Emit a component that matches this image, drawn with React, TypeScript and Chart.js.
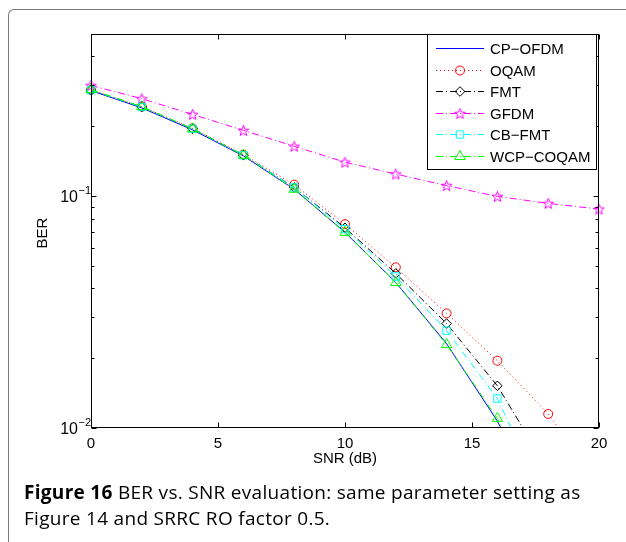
import React, { useEffect, useRef } from 'react';
import { Chart, registerables } from 'chart.js';

Chart.register(...registerables);

// ---- data ----
const snrDb = [0, 2, 4, 6, 8, 10, 12, 14, 16, 18, 20];
const cpOfdm = [0.285, 0.240, 0.193, 0.149, 0.107, 0.0698, 0.0424, 0.0231, 0.0107, 0.0040, 0.0012];
const oqam = [0.287, 0.243, 0.196, 0.151, 0.112, 0.0757, 0.0493, 0.0312, 0.0195, 0.0115, 0.0057];
const fmt = [0.286, 0.242, 0.195, 0.150, 0.109, 0.0730, 0.0464, 0.0282, 0.0152, 0.0066, 0.0030];
const gfdm = [0.300, 0.263, 0.225, 0.192, 0.164, 0.140, 0.1245, 0.111, 0.0997, 0.093, 0.0879];
const cbFmt = [0.286, 0.242, 0.195, 0.150, 0.109, 0.0720, 0.0450, 0.0263, 0.0134, 0.0045, 0.0015];
const wcpCoqam = [0.288, 0.243, 0.195, 0.150, 0.107, 0.0698, 0.0424, 0.0229, 0.0110, 0.0040, 0.0012];

const seriesNames = ['CP\u2212OFDM', 'OQAM', 'FMT', 'GFDM', 'CB\u2212FMT', 'WCP\u2212COQAM'];

const xTicks = [0, 5, 10, 15, 20];
const yMajorTicks = [0.01, 0.1];
const yMajorExponents = ['\u22122', '\u22121'];
const yMinorTicks = [0.02, 0.03, 0.04, 0.05, 0.06, 0.07, 0.08, 0.09, 0.2, 0.3, 0.4];

const xTitle = 'SNR (dB)';
const yTitle = 'BER';
const captionBold = 'Figure 16';
const captionLine1 = ' BER vs. SNR evaluation: same parameter setting as';
const captionLine2 = 'Figure 14 and SRRC RO factor 0.5.';

const FONT = '"Liberation Sans", Arial, Helvetica, sans-serif';
const DASHDOT = [7, 3, 1, 3];

function makeStar(color: string): HTMLCanvasElement {
  const size = 13;
  const c = document.createElement('canvas');
  c.width = size;
  c.height = size;
  const g = c.getContext('2d')!;
  g.strokeStyle = color;
  g.lineWidth = 1;
  const cx = size / 2, cy = size / 2 + 0.5;
  const r = 5.6, ri = r * 0.42;
  g.beginPath();
  for (let i = 0; i < 10; i++) {
    const a = -Math.PI / 2 + (i * Math.PI) / 5;
    const rr = i % 2 === 0 ? r : ri;
    const px = cx + rr * Math.cos(a), py = cy + rr * Math.sin(a);
    if (i === 0) g.moveTo(px, py); else g.lineTo(px, py);
  }
  g.closePath();
  g.stroke();
  return c;
}

type Sty = { color: string; dash: number[]; marker: string | null; r: number };

export default function App() {
  const ref = useRef<HTMLCanvasElement | null>(null);

  useEffect(() => {
    const canvas = ref.current!;
    const star = makeStar('#ff00ff');
    const styles: Sty[] = [
      { color: '#0000ff', dash: [], marker: null, r: 0 },
      { color: '#ff0000', dash: [1, 3], marker: 'circle', r: 4.5 },
      { color: '#000000', dash: DASHDOT, marker: 'rectRot', r: 4.8 },
      { color: '#ff00ff', dash: DASHDOT, marker: 'star', r: 5 },
      { color: '#00ffff', dash: DASHDOT, marker: 'rect', r: 5.2 },
      { color: '#00ff00', dash: DASHDOT, marker: 'triangle', r: 6 },
    ];
    const allSeries = [cpOfdm, oqam, fmt, gfdm, cbFmt, wcpCoqam];

    const datasets = allSeries.map((vals, i) => {
      const s = styles[i];
      return {
        label: seriesNames[i],
        data: vals.map((v, j) => ({ x: snrDb[j], y: v })),
        borderColor: s.color,
        backgroundColor: 'transparent',
        borderWidth: 1,
        borderDash: s.dash,
        pointStyle: s.marker === 'star' ? (star as any) : (s.marker || 'circle'),
        pointRadius: s.r,
        pointHoverRadius: s.r,
        pointBorderColor: s.color,
        pointBackgroundColor: 'transparent',
        pointBorderWidth: 1,
        tension: 0,
        fill: false,
        order: 6 - i,
        clip: { left: 12, right: 12, top: 0, bottom: 0 } as any,
      };
    });

    const drawMarker = (ctx: CanvasRenderingContext2D, s: Sty, x: number, y: number) => {
      if (!s.marker) return;
      ctx.save();
      ctx.setLineDash([]);
      ctx.strokeStyle = s.color;
      ctx.lineWidth = 1;
      const r = s.r;
      ctx.beginPath();
      if (s.marker === 'circle') {
        ctx.arc(x, y, r, 0, Math.PI * 2);
      } else if (s.marker === 'rectRot') {
        ctx.moveTo(x - r, y); ctx.lineTo(x, y - r); ctx.lineTo(x + r, y); ctx.lineTo(x, y + r); ctx.closePath();
      } else if (s.marker === 'rect') {
        const h = r * Math.SQRT1_2;
        ctx.rect(x - h, y - h, 2 * h, 2 * h);
      } else if (s.marker === 'triangle') {
        const w = r * Math.sin(Math.PI * 2 / 3);
        ctx.moveTo(x, y - r); ctx.lineTo(x + w, y + r / 2); ctx.lineTo(x - w, y + r / 2); ctx.closePath();
      } else if (s.marker === 'star') {
        ctx.drawImage(star, x - star.width / 2, y - star.height / 2);
      }
      ctx.stroke();
      ctx.restore();
    };

    const framePlugin = {
      id: 'matlabFrame',
      afterDraw(chart: any) {
        const ctx: CanvasRenderingContext2D = chart.ctx;
        const xs = chart.scales.x, ys = chart.scales.y;
        const ca = chart.chartArea;
        const L = Math.round(ca.left) + 0.5, R = Math.round(ca.right) - 0.5;
        const T = Math.round(ca.top) + 0.5, B = Math.round(ca.bottom) - 0.5;
        ctx.save();
        ctx.setLineDash([]);
        ctx.strokeStyle = '#000';
        ctx.lineWidth = 1;
        ctx.strokeRect(L, T, R - L, B - T);
        ctx.beginPath();
        xTicks.forEach((v) => {
          const px = Math.round(xs.getPixelForValue(v)) + 0.5;
          ctx.moveTo(px, B); ctx.lineTo(px, B - 5);
          ctx.moveTo(px, T); ctx.lineTo(px, T + 5);
        });
        yMajorTicks.forEach((v) => {
          const py = Math.round(ys.getPixelForValue(v)) + 0.5;
          ctx.moveTo(L, py); ctx.lineTo(L + 5, py);
          ctx.moveTo(R, py); ctx.lineTo(R - 5, py);
        });
        yMinorTicks.forEach((v) => {
          const py = Math.round(ys.getPixelForValue(v)) + 0.5;
          ctx.moveTo(L, py); ctx.lineTo(L + 3, py);
          ctx.moveTo(R, py); ctx.lineTo(R - 3, py);
        });
        ctx.stroke();

        // tick labels
        ctx.fillStyle = '#000';
        ctx.font = `15px ${FONT}`;
        ctx.textAlign = 'center';
        ctx.textBaseline = 'alphabetic';
        xTicks.forEach((v) => {
          ctx.fillText(String(v), xs.getPixelForValue(v), B + 20);
        });
        yMajorTicks.forEach((v, i) => {
          const py = ys.getPixelForValue(v);
          ctx.font = `16px ${FONT}`;
          ctx.textAlign = 'right';
          ctx.fillText('10', 78, py + 6);
          ctx.font = `11px ${FONT}`;
          ctx.textAlign = 'left';
          ctx.fillText(yMajorExponents[i], 78.5, py - 2.5);
        });

        // axis titles
        ctx.font = `15px ${FONT}`;
        ctx.textAlign = 'center';
        ctx.fillText(xTitle, (ca.left + ca.right) / 2, 463);
        ctx.save();
        ctx.translate(47, 233);
        ctx.rotate(-Math.PI / 2);
        ctx.fillText(yTitle, 0, 0);
        ctx.restore();

        // legend
        const lx = 427.5, ly = T, lw = 169, lh = 135;
        ctx.fillStyle = '#fff';
        ctx.fillRect(lx, ly, lw, lh);
        ctx.strokeStyle = '#000';
        ctx.strokeRect(lx, ly, lw, lh);
        ctx.font = `15px ${FONT}`;
        ctx.textAlign = 'left';
        ctx.textBaseline = 'middle';
        styles.forEach((s, i) => {
          const cy = Math.round(48 + i * 21.6) + 0.5;
          ctx.save();
          ctx.strokeStyle = s.color;
          ctx.lineWidth = 1;
          ctx.setLineDash(s.dash);
          ctx.beginPath();
          ctx.moveTo(436, cy); ctx.lineTo(484, cy);
          ctx.stroke();
          ctx.restore();
          drawMarker(ctx, s, 460, cy);
          ctx.fillStyle = '#000';
          ctx.fillText(seriesNames[i], 490, cy + 1);
        });
        ctx.restore();
      },
    };

    const chart = new Chart(canvas, {
      type: 'line',
      data: { datasets: datasets as any },
      options: {
        responsive: false,
        animation: false,
        devicePixelRatio: 1,
        layout: { padding: { left: 91, top: 34, right: 27, bottom: 114 } },
        plugins: { legend: { display: false }, tooltip: { enabled: false } },
        events: [],
        scales: {
          x: { type: 'linear', min: 0, max: 20, display: false },
          y: { type: 'logarithmic', min: 0.01, max: 0.5, display: false },
        },
      },
      plugins: [framePlugin],
    });
    return () => chart.destroy();
  }, []);

  const capStyle: React.CSSProperties = {
    position: 'absolute', left: 24, fontFamily: '"Open Sans", sans-serif', fontSize: 19, fontWeight: 500,
    letterSpacing: '0.3px', lineHeight: '26px', whiteSpace: 'nowrap', color: '#000',
  };

  return (
    <div style={{ position: 'absolute', left: 0, top: 0, width: 626, height: 542, overflow: 'hidden', background: '#fff' }}>
      <div
        style={{
          position: 'absolute', left: 8, top: 9, width: 700, height: 700,
          borderLeft: '1.5px solid #7a7a7a', borderTop: '1.5px solid #7a7a7a', borderTopLeftRadius: 6,
        }}
      />
      <canvas ref={ref} width={626} height={542} style={{ position: 'absolute', left: 0, top: 0, width: 626, height: 542 }} />
      <div style={{ ...capStyle, top: 479 }}>
        <b style={{ fontWeight: 700 }}>{captionBold}</b>{captionLine1}
      </div>
      <div style={{ ...capStyle, top: 505 }}>
        {captionLine2}
      </div>
    </div>
  );
}
